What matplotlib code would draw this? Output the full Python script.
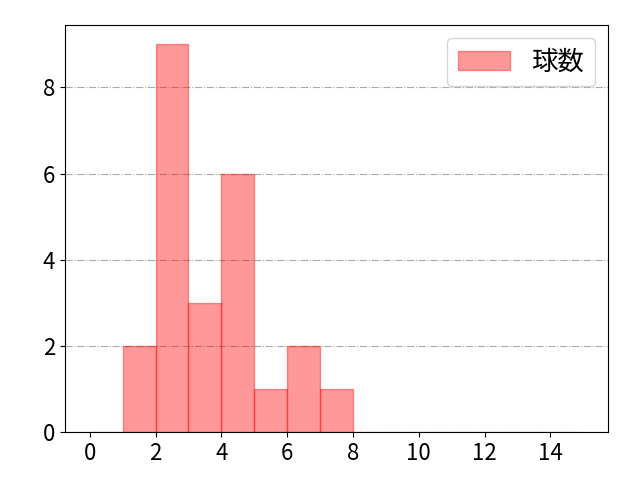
import matplotlib
matplotlib.use("Agg")
import matplotlib.pyplot as plt
import numpy as np

plt.rcParams['font.family'] = ['Noto Sans CJK JP', 'DejaVu Sans']

bin_edges = list(range(0, 16))
counts = [0, 2, 9, 3, 6, 1, 2, 1, 0, 0, 0, 0, 0, 0, 0]
label = "球数"

fig, ax = plt.subplots(figsize=(6.4, 4.8), dpi=100)
fig.subplots_adjust(left=65/640, right=608/640, top=1-25/480, bottom=1-432/480)
left = np.array(bin_edges[:-1])
widths = np.diff(bin_edges)
ax.bar(left, counts, width=widths, align='edge', color='red', alpha=0.4,
       edgecolor='red', linewidth=1, label=label)
ax.margins(x=0.05)
ax.set_xticks([0, 2, 4, 6, 8, 10, 12, 14])
ax.set_yticks([0, 2, 4, 6, 8])
ax.tick_params(labelsize=16)
ax.grid(axis='y', linestyle='-.', color='#aaaaaa', linewidth=0.8)
ax.set_axisbelow(True)
ax.legend(loc='upper right', fontsize=19)
fig.savefig("out.png", dpi=100)
